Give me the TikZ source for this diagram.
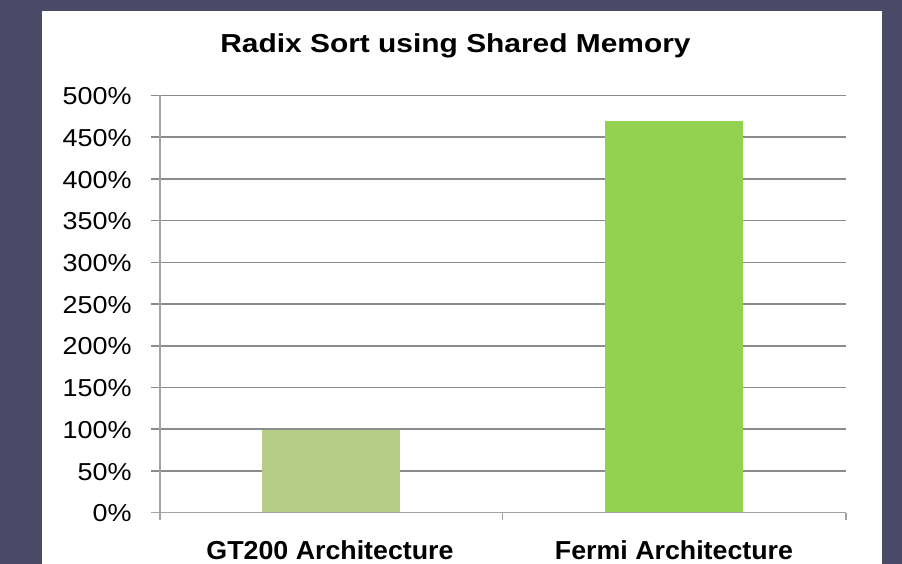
\documentclass[tikz,border=0pt]{standalone}
\usepackage{fontspec}
\setmainfont{Liberation Sans}
\newfontfamily\titlefont[FakeStretch=1.15]{Liberation Sans}
\newfontfamily\ylabfont[FakeStretch=1.1]{Liberation Sans}
\newfontfamily\xlabfont[FakeStretch=1.03]{Liberation Sans}
\definecolor{bgdark}{HTML}{4A4A66}
\definecolor{gridgray}{HTML}{8C8C8C}
\definecolor{barone}{HTML}{B5CD86}
\definecolor{bartwo}{HTML}{93D150}
\begin{document}
\begin{tikzpicture}[x=1pt,y=-1pt,
  ylab/.style={anchor=east,inner sep=0pt,font=\ylabfont\fontsize{24.5}{24.5}\selectfont},
  xlab/.style={anchor=base,inner sep=0pt,font=\xlabfont\fontsize{26}{26}\selectfont\bfseries},
  gridline/.style={draw=gridgray,line width=1.6pt},
  axisline/.style={draw=gridgray!80,line width=1.6pt}]
\useasboundingbox (0,0) rectangle (902,564);
\fill[bgdark] (0,0) rectangle (902,564);
\fill[white] (41.5,11) rectangle (881.7,570);
% title
\node[anchor=base,inner sep=0pt,font=\titlefont\fontsize{26}{26}\selectfont\bfseries] (title) at (455.5,52.3) {Radix Sort using Shared Memory};
% gridlines and y labels
\foreach \i in {1,...,10}{
  \pgfmathsetmacro{\yy}{512.5-41.7*\i}
  \draw[gridline] (151,\yy) -- (845.7,\yy);
}
\foreach \i/\lab in {0/0\%,1/50\%,2/100\%,3/150\%,4/200\%,5/250\%,6/300\%,7/350\%,8/400\%,9/450\%,10/500\%}{
  \pgfmathsetmacro{\yy}{512.5-41.7*\i}
  \node[ylab] (yl\i) at (131.7,\yy+0.8) {\lab};
}
% bars
\fill[barone] (262,429.5) rectangle (400,512.5);
\fill[bartwo] (605,121) rectangle (742.7,512.5);
% axes
\draw[axisline] (160,95.3) -- (160,520);
\draw[axisline] (151,512.5) -- (845.7,512.5);
\draw[axisline] (502.3,512.5) -- (502.3,520);
\draw[axisline] (845.7,512.5) -- (845.7,520);
% x labels
\node[xlab] (c1) at (330,559) {GT200 Architecture};
\node[xlab] (c2) at (674,559) {Fermi Architecture};
\end{tikzpicture}
\end{document}
